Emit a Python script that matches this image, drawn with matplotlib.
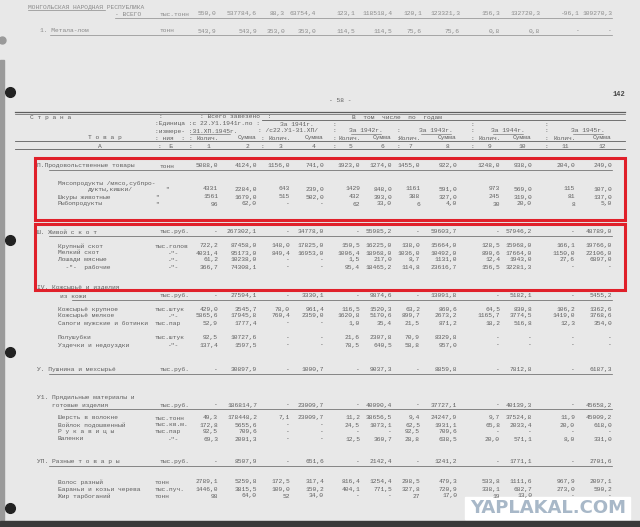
import matplotlib.pyplot as plt

# ---- data ----
top_title = 'МОНГОЛЬСКАЯ НАРОДНАЯ РЕСПУБЛИКА'
top_total = ['550,0', '537784,6', '88,3', '63754,4', '123,1', '118518,4',
             '120,1', '123321,3', '156,3', '132720,3', '-96,1', '109270,3']
top_scrap = ['543,9', '543,9', '353,0', '353,0', '114,5', '114,5',
             '75,6', '75,6', '0,8', '0,8', '-', '-']

col_numbers = ['1', '2', '3', '4', '5', '6', '7', '8', '9', '10', '11', '12']
years = ['За 1942г.', 'За 1943г.', 'За 1944г.', 'За 1945г.']

food_head = ['5088,0', '4124,0', '1156,0', '741,0', '1923,0', '1274,0',
             '1455,0', '922,0', '1248,0', '938,0', '204,0', '249,0']
food_rows = [
    ('Шкуры животные', '"', ['1561', '1679,0', '515', '502,0', '432', '393,0',
                             '388', '327,0', '245', '319,0', '81', '137,0']),
    ('Рыбопродукты', '"', ['96', '62,0', '-', '-', '62', '33,0',
                           '6', '4,0', '30', '20,0', '8', '5,0']),
]
meat_vals = ['4331', '2284,0', '643', '239,0', '1429', '848,0',
             '1161', '591,0', '973', '569,0', '115', '107,0']

cattle_head = ['-', '267302,1', '-', '34778,0', '-', '55985,2',
               '-', '59603,7', '-', '57946,2', '-', '48789,0']
cattle_rows = [
    ('Крупный скот', 'тыс.голов', ['722,2', '87458,0', '148,0', '17825,0', '150,5', '16225,0',
                                  '138,0', '15664,0', '128,5', '15968,0', '166,1', '19766,0']),
    ('Мелкий скот', '-"-', ['4031,4', '95173,0', '849,4', '16953,0', '1006,4', '18968,0',
                            '1036,0', '10492,0', '890,6', '17664,0', '1150,0', '22106,0']),
    ('Лошади мясные', '-"-', ['61,2', '10238,0', '-', '-', '1,5', '217,0',
                              '8,7', '1131,0', '12,4', '1943,0', '27,6', '6897,0']),
    ('  -"-  рабочие', '-"-', ['366,7', '74308,1', '-', '-', '95,4', '18465,2',
                               '114,8', '23616,7', '156,5', '32281,3', '-', '-']),
]

leather_head = ['-', '27594,1', '-', '3330,1', '-', '9874,6',
                '-', '13091,8', '-', '5182,1', '-', '5455,2']
leather_rows = [
    ('Кожсырьё крупное', 'тыс.штук', ['429,0', '3545,7', '78,0', '961,4', '116,5', '1520,3',
                                      '63,2', '860,6', '64,5', '830,8', '106,2', '1362,6']),
    ('Кожсырьё мелкое', '-"-', ['5865,6', '17945,8', '760,4', '2359,0', '1620,8', '5170,6',
                                '899,7', '2673,2', '1165,7', '3774,5', '1419,0', '3768,6']),
    ('Сапоги мужские и ботинки', 'тыс.пар', ['52,9', '1777,4', '-', '-', '1,0', '35,4',
                                             '21,5', '871,2', '18,2', '516,8', '12,3', '354,0']),
]
leather_rows2 = [
    ('Полушубки', 'тыс.штук', ['92,5', '10727,6', '-', '-', '21,6', '2307,8',
                               '70,9', '8329,8', '-', '-', '-', '-']),
    ('Уздечки и недоуздки', '-"-', ['137,4', '1597,5', '-', '-', '78,5', '640,5',
                                    '58,8', '957,0', '-', '-', '-', '-']),
]

fur_head = ['-', '30897,9', '-', '1000,7', '-', '9037,3',
            '-', '8859,8', '-', '7812,8', '-', '6187,3']

wool_head = ['-', '186814,7', '-', '23009,7', '-', '40090,4',
             '-', '37727,1', '-', '40139,3', '-', '45658,2']
wool_rows = [
    ('Шерсть в волокне', 'тыс.тонн', ['49,3', '178448,2', '7,1', '23009,7', '11,2', '38656,5',
                                      '9,4', '24247,9', '9,7', '37524,8', '11,9', '45009,2']),
    ('Войлок подошвенный', 'тыс.кв.м.', ['172,8', '5655,6', '-', '-', '24,5', '1073,1',
                                          '62,5', '1931,1', '65,8', '2033,4', '20,0', '618,0']),
    ('Р у к а в и ц ы', 'тыс.пар', ['92,5', '709,6', '-', '-', '-', '-',
                                    '92,5', '709,6', '-', '-', '-', '-']),
    ('Валенки', '-"-', ['69,3', '2001,3', '-', '-', '12,5', '360,7',
                        '28,8', '638,5', '20,0', '571,1', '8,0', '331,0']),
]

misc_head = ['-', '8507,9', '-', '651,6', '-', '2142,4',
             '-', '1241,2', '-', '1771,1', '-', '2701,6']
misc_rows = [
    ('Волос разный', 'тонн', ['2789,1', '5259,8', '172,5', '317,4', '816,4', '1254,4',
                              '298,5', '479,3', '533,8', '1111,6', '967,9', '2097,1']),
    ('Бараньи и козьи черева', 'тыс.пуч.', ['1446,0', '3815,5', '109,0', '150,2', '404,1', '771,5',
                                            '327,8', '720,9', '338,1', '682,7', '273,0', '590,2']),
    ('Жир тарбоганий', 'тонн', ['98', '64,0', '52', '34,0', '-', '-',
                                '27', '17,0', '19', '13,0', '-', '-']),
]

# ---- page geometry ----
cols = [218, 257, 290, 324, 360, 392, 420, 457, 500, 532, 575, 612]
top_cols = [216, 257, 285, 316, 355, 392, 422, 460, 500, 540, 580, 612]
INK = '#5e5e5e'
FONT = 'Liberation Mono'
FS = 4.5

fig = plt.figure(figsize=(6.4, 5.27), dpi=100)
fig.patch.set_facecolor('#e8e8e8')
ax = fig.add_axes([0, 0, 1, 1])
ax.set_xlim(0, 640)
ax.set_ylim(527, 0)
ax.axis('off')


def txt(x, y, s, ha='left', size=FS, color=INK, weight='normal'):
    ax.text(x, y, s, ha=ha, va='center', fontsize=size, family=FONT,
            color=color, fontweight=weight)


def hline(y, x0, x1, lw=0.6, color=INK):
    ax.plot([x0, x1], [y, y], color=color, lw=lw)


def values(y, vals, xs=cols, color=INK):
    for x, v in zip(xs, vals):
        txt(x, y, v, ha='right', color=color)


def section_head(y, label, unit, vals, x_label=37):
    txt(x_label, y, label)
    txt(160, y, unit)
    values(y, vals)
    hline(y + 3.5, x_label + 12, cols[-1], lw=0.5)


def item_rows(y0, rows, unit_x=155):
    for k, (lab, unit, vals) in enumerate(rows):
        y = y0 + 7 * k
        txt(58, y, lab)
        txt(unit_x if unit != '-"-' else 168, y, unit)
        values(y, vals)


# top strip from the previous page (fainter print)
FAINT = '#8a8a8a'
txt(28, 7, top_title, color=FAINT)
hline(10, 28, 105, lw=0.5, color=FAINT)
txt(115, 14, '- ВСЕГО', color=FAINT)
txt(160, 14, 'тыс.тонн', color=FAINT)
values(14, top_total, top_cols, color=FAINT)
hline(17.5, 115, 612, lw=0.5, color=FAINT)
txt(40, 31, '1. Метала-лом', color=FAINT)
txt(160, 31, 'тонн', color=FAINT)
values(31, top_scrap, top_cols, color=FAINT)
hline(34.5, 50, 612, lw=0.5, color=FAINT)
ax.plot(2, 40, 'o', ms=5, color='#9a9a9a')

# page header
txt(612, 95, '142', size=5, weight='bold', color='#444444')
txt(340, 101, '- 58 -', ha='center')
hline(112, 15, 625, lw=0.9)
hline(114, 15, 625, lw=0.5)
txt(30, 117, 'С т р а н а')
txt(158, 116, ':')
txt(200, 116, ': Всего завезено  :')
txt(352, 117, 'В  том  числе  по  годам')
hline(120, 262, 625)
txt(155, 124, ':Единица :с 22.У1.1941г.по :')
txt(297, 124, 'За 1941г.', ha='center')
for x in [332, 470, 544]:
    txt(x, 124, ':')
txt(155, 131, ':измере- :31.ХП.1945г.')
hline(134, 190, 230, lw=0.4)
txt(258, 131, ': /с22.У1-31.ХП/')
for i, yr in enumerate(years):
    cx = [366, 436, 508, 588][i]
    txt(cx, 131, yr, ha='center')
    hline(134, cx - 15, cx + 15, lw=0.4)
for x in [332, 396, 470, 544]:
    txt(x, 131, ':')
txt(88, 138, 'Т о в а р')
txt(155, 138, ': ния  :')
for i, x in enumerate(cols):
    lab = 'Колич.' if i % 2 == 0 else 'Сумма'
    txt(x - 10, 138, lab, ha='center')
    txt(x - 10, 146, col_numbers[i], ha='center')
for x in [188, 260, 332, 396, 470, 544]:
    txt(x, 138, ':')
    txt(x, 146, ':')
txt(100, 146, 'А', ha='center')
txt(158, 146, ':  Б')
hline(141, 15, 625)
hline(149, 15, 625)
ax.plot(10, 92, 'o', ms=7, color='#222222')

# II. food products
section_head(166, 'П.Продовольственные товары', 'тонн', food_head)
txt(58, 183, 'Мясопродукты /мясо,субпро-')
txt(88, 190, 'дукты,кишки/')
txt(165, 189, '"')
values(189, meat_vals)
item_rows(197, food_rows)

# III. livestock
section_head(232, 'Ш. Живой с к о т', 'тыс.руб.', cattle_head)
item_rows(246, cattle_rows)
ax.plot(10, 240, 'o', ms=7, color='#222222')

# IV. hides
txt(37, 287, 'IV. Кожсырьё и изделия')
section_head(296, 'из кожи', 'тыс.руб.', leather_head, x_label=60)
item_rows(309, leather_rows)
item_rows(338, leather_rows2)
ax.plot(10, 352, 'o', ms=7, color='#222222')

# V. furs
section_head(370, 'У. Пушнина и мехсырьё', 'тыс.руб.', fur_head)

# VI. textile materials
txt(37, 397, 'У1. Прядильные материалы и')
section_head(405, 'готовые изделия', 'тыс.руб.', wool_head, x_label=52)
item_rows(418, wool_rows)

# VII. misc
section_head(462, 'УП. Разные т о в а р ы', 'тыс.руб.', misc_head)
item_rows(482, misc_rows)
ax.plot(10, 508, 'o', ms=7, color='#222222')

# red highlight frames
for y0, y1 in [(158, 220), (224, 290)]:
    ax.add_patch(plt.Rectangle((35, y0), 590, y1 - y0, fill=False,
                               edgecolor='#e0202a', lw=2.2))

# page edges
ax.add_patch(plt.Rectangle((0, 60), 4, 460, color='#9a9a9a'))
ax.add_patch(plt.Rectangle((0, 521), 640, 6, color='#3a3a3a'))

# watermark
ax.add_patch(plt.Rectangle((465, 497), 165, 22, color='white'))
ax.text(548, 508, 'YAPLAKAL.COM', ha='center', va='center', fontsize=13,
        fontweight='bold', color='#a8b8c8', family='DejaVu Sans')

fig.savefig('out.png', dpi=100, facecolor=fig.get_facecolor())
